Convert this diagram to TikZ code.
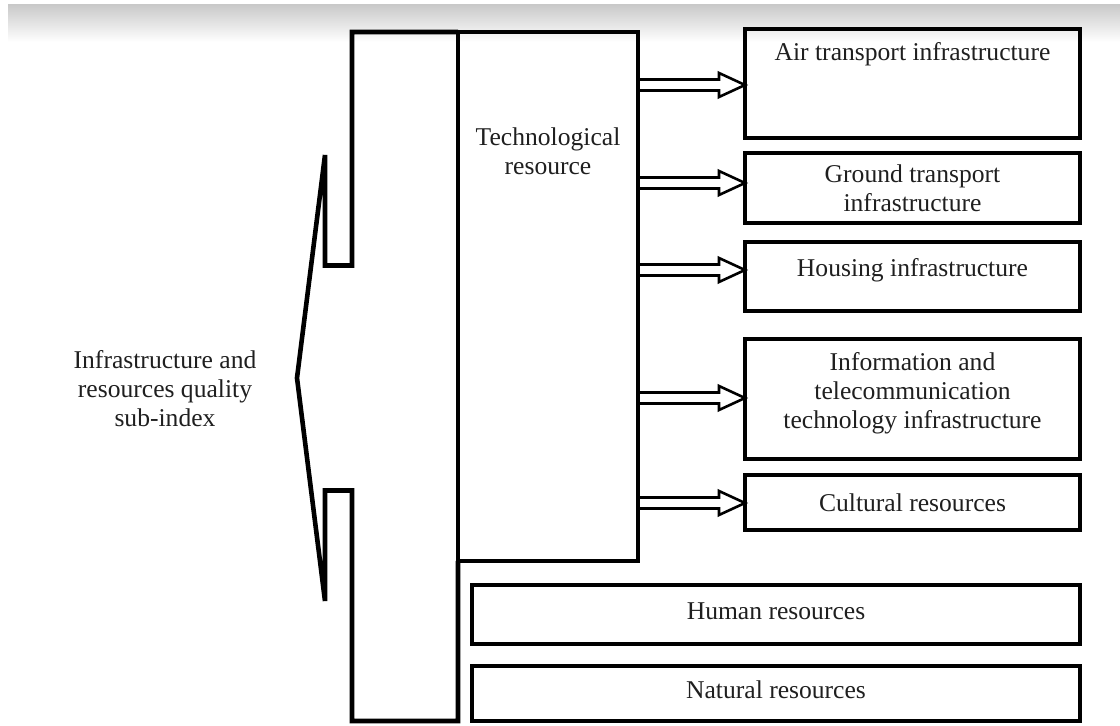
\documentclass[tikz,border=0pt]{standalone}
\usepackage{fontspec}
\setmainfont{Liberation Serif}
\usetikzlibrary{calc}
\tikzset{
  box/.style={draw, rectangle, line width=2.3pt, outer sep=0pt, inner sep=0pt, align=center},
  txt/.style={align=center, inner sep=0pt, text=black!88},
  frame/.style={line width=2.3pt, line join=miter},
  arrowline/.style={line width=1.3pt, line join=miter},
}
\begin{document}
\begin{tikzpicture}[x=0.5pt, y=-0.5pt, font=\fontsize{12.8}{14.5}\selectfont]
\useasboundingbox (0,0) rectangle (1120,726);
\shade[top color=black!21, bottom color=white] (8,5) rectangle (1120,42);

% middle block
\node[box, minimum width=90pt, minimum height=264.5pt] (tech) at (548,296.5) {};
\node[txt] (techtext) at (548,151) {Technological\\resource};

% right column
\node[box, minimum width=167.5pt, minimum height=54.5pt] (air) at (912.5,83.5) {};
\node[txt] (airtext) at (912.5,54) {Air transport infrastructure};
\node[box, minimum width=167.5pt, minimum height=35pt, text=black!88] (ground) at (912.5,188) {Ground transport\\infrastructure};
\node[box, minimum width=167.5pt, minimum height=34.5pt] (housing) at (912.5,276.5) {};
\node[txt] (housingtext) at (912.5,270) {Housing infrastructure};
\node[box, minimum width=167.5pt, minimum height=60pt] (info) at (912.5,399) {};
\node[txt] (infotext) at (912.5,393) {Information and\\telecommunication\\technology infrastructure};
\node[box, minimum width=167.5pt, minimum height=27.5pt, text=black!88] (cultural) at (912.5,502.5) {Cultural resources};

% bottom rows
\node[box, minimum width=304pt, minimum height=29.5pt] (human) at (776,614.5) {};
\node[txt] (humantext) at (776,611) {Human resources};
\node[box, minimum width=304pt, minimum height=27.5pt] (natural) at (776,693.5) {};
\node[txt] (naturaltext) at (776,690) {Natural resources};

% left label and bracket
\node[txt] (subindex) at (165,389) {Infrastructure and\\resources quality\\sub-index};
\coordinate (bb) at (352,721);
\draw[frame] (tech.north west) -- (352,32) -- (352,265.5) -- (325,265.5) -- (325,155)
  -- (297,378) -- (325,601) -- (325,490.5) -- (352,490.5) -- (bb) -- (tech.west |- bb) -- (tech.south west);

% hollow arrows
\foreach \b/\y in {air/85,ground/183,housing/270,info/398,cultural/503}{
  \coordinate (s) at (0,\y);
  \draw[arrowline] ($(tech.east |- s)+(0,-5.5)$) -- ($(\b.west |- s)+(-26,-5.5)$) -- ++(0,-6.5)
    -- (\b.west |- s) -- ++(-26,12) -- ++(0,-6.5) -- ($(tech.east |- s)+(0,5.5)$);
}
\end{tikzpicture}
\end{document}
